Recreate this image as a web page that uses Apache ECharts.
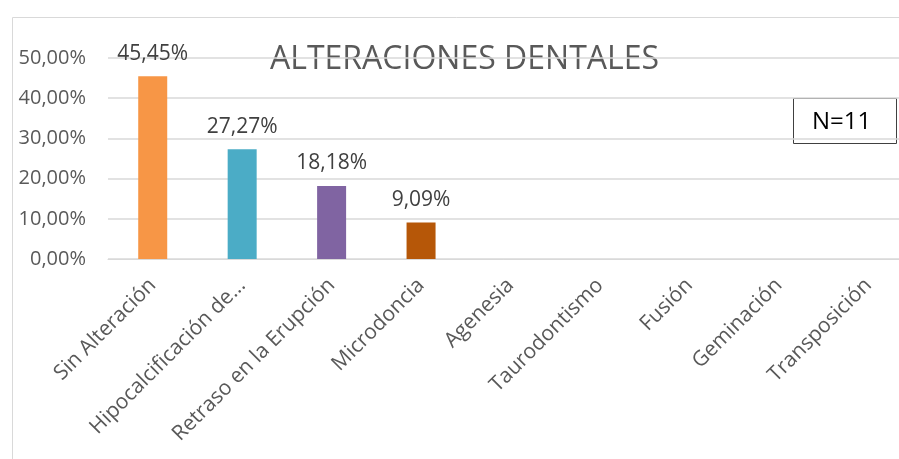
<!DOCTYPE html>
<html>
<head>
<meta charset="utf-8">
<script src="https://cdn.jsdelivr.net/npm/echarts@6/dist/echarts.min.js"></script>
<style>
  html, body { margin: 0; padding: 0; background: #fff; }
  #chart { width: 899px; height: 459px; }
</style>
</head>
<body>
<div id="chart"></div>
<script>
// datos del gráfico
var categorias = ['Sin Alteración', 'Hipocalcificación de...', 'Retraso en la Erupción', 'Microdoncia',
   'Agenesia', 'Taurodontismo', 'Fusión', 'Geminación', 'Transposición'];
var porcentajes = [45.45, 27.27, 18.18, 9.09, 0, 0, 0, 0, 0];
var colores = ['#F79646', '#4BACC6', '#8064A2', '#B65708', '#F79646', '#4BACC6', '#8064A2', '#B65708', '#F79646'];
var ticksY = [0, 10, 20, 30, 40, 50];

function pct(v) {
   return v.toFixed(2).replace('.', ',') + '%';
}

var chart = echarts.init(document.getElementById('chart'));
var option = {
   animation: false,
   textStyle: { fontFamily: 'Open Sans' },
   graphic: [
      {
         // marco del gráfico
         type: 'rect', left: 10, top: 15, z: -1,
         shape: { width: 1000, height: 1000 },
         style: { fill: 'none', stroke: '#d9d9d9', lineWidth: 1 }
      },
      {
         type: 'text', left: 270, top: 44,
         style: { text: 'ALTERACIONES DENTALES', fontSize: 32, fill: '#595959', fontFamily: 'Open Sans' }
      },
      {
         // caja N=11
         type: 'rect', left: 793, top: 98,
         shape: { width: 103, height: 45 },
         style: { fill: '#fff', stroke: '#404040', lineWidth: 1 }
      },
      {
         type: 'text', left: 812, top: 110,
         style: { text: 'N=11', fontSize: 24, fill: '#000', fontFamily: 'Open Sans' }
      }
   ],
   // la zona del gráfico sigue más allá del borde derecho (recortada)
   grid: { left: 108, top: 58, width: 805, height: 201, outerBoundsMode: 'none', containLabel: false },
   xAxis: {
      type: 'category',
      data: categorias,
      axisLine: { lineStyle: { color: '#d9d9d9' } },
      axisTick: { show: false },
      axisLabel: { rotate: 45, interval: 0, fontSize: 21, color: '#595959', margin: 23 }
   },
   yAxis: {
      type: 'value',
      min: ticksY[0],
      max: ticksY[ticksY.length - 1],
      interval: 10,
      axisLine: { show: false },
      axisTick: { show: false },
      splitLine: { lineStyle: { color: '#d9d9d9', width: 1.5 } },
      axisLabel: { fontSize: 20, color: '#595959', margin: 22, formatter: pct }
   },
   series: [{
      type: 'bar',
      barWidth: 29,
      data: porcentajes.map(function (v, i) {
         return { value: v, itemStyle: { color: colores[i] } };
      }),
      label: {
         show: true,
         position: 'top',
         distance: 12,
         fontSize: 21,
         color: '#404040',
         formatter: function (p) { return p.value > 0 ? pct(p.value) : ''; }
      }
   }]
};
chart.setOption(option);
</script>
</body>
</html>
